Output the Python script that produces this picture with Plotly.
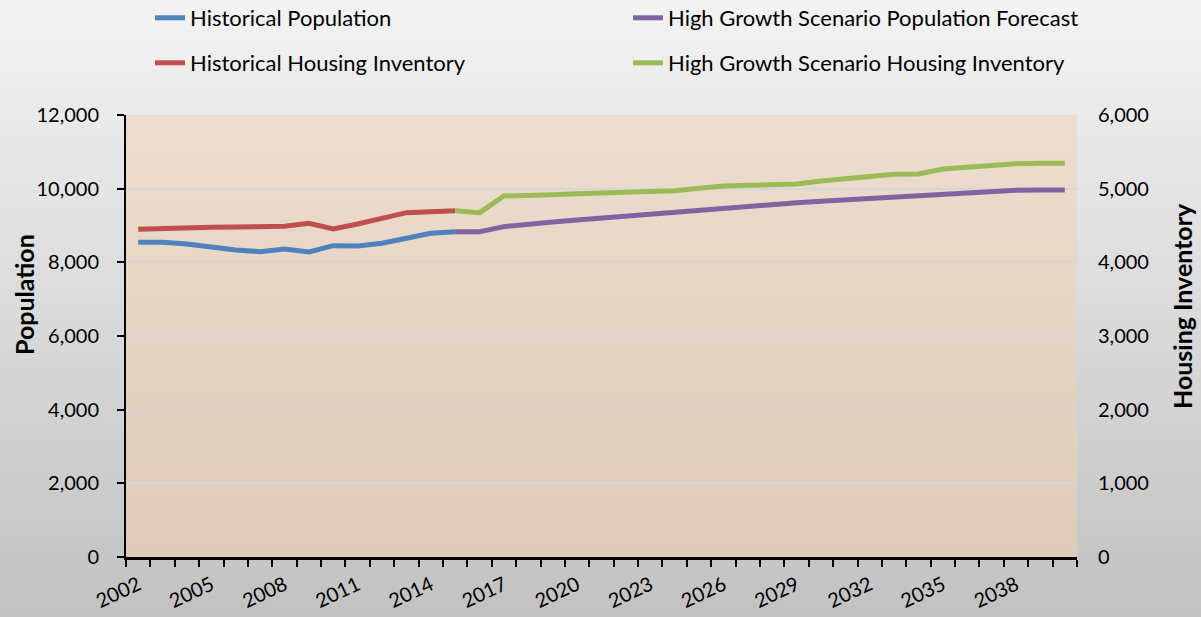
import plotly.graph_objects as go

# ---------------- data ----------------
hist_years = list(range(2002, 2016))
hist_population = [8545, 8545, 8500, 8410, 8335, 8290, 8363, 8280, 8453, 8444, 8517, 8653, 8789, 8833]
hist_housing = [4448, 4462, 4470, 4476, 4480, 4480, 4489, 4530, 4452, 4520, 4593, 4674, 4687, 4701]

fc_years = list(range(2015, 2041))
hg_population = [8833, 8833, 8969, 9041, 9096, 9150, 9204, 9258, 9313, 9376, 9430, 9484, 9545,
                 9571, 9620, 9657, 9693, 9729, 9766, 9811, 9848, 9902, 9929, 9956, 9965, 9965]
hg_housing = [4701, 4674, 4900, 4905, 4918, 4932, 4944, 4955, 4969, 4973, 5005, 5036, 5045,
              5059, 5063, 5104, 5135, 5158, 5195, 5199, 5267, 5290, 5321, 5339, 5344, 5344]

x_tick_labels = [str(y) for y in range(2002, 2039, 3)]
pop_ticks = [0, 2000, 4000, 6000, 8000, 10000, 12000]
housing_ticks = [0, 1000, 2000, 3000, 4000, 5000, 6000]

# ---------------- layout geometry ----------------
W, H = 1201, 617
ML, MR, MT, MB = 126, 124, 115, 60
PW, PH = W - ML - MR, H - MT - MB

def px_x(p):
    return (p - ML) / PW

def px_y(p):
    return (H - MB - p) / PH

FONT = "Lato"
BLUE, RED, PURPLE, GREEN = "#4f81bd", "#c0504d", "#8064a2", "#9bbb59"

fig = go.Figure()
fig.add_trace(go.Scatter(x=hist_years, y=hist_population, name="Historical Population",
                         mode="lines", line=dict(color=BLUE, width=5), legend="legend"))
fig.add_trace(go.Scatter(x=fc_years, y=hg_population, name="High Growth Scenario Population Forecast",
                         mode="lines", line=dict(color=PURPLE, width=5), legend="legend2"))
fig.add_trace(go.Scatter(x=hist_years, y=hist_housing, name="Historical Housing Inventory",
                         mode="lines", line=dict(color=RED, width=5), yaxis="y2", legend="legend3"))
fig.add_trace(go.Scatter(x=fc_years, y=hg_housing, name="High Growth Scenario Housing Inventory",
                         mode="lines", line=dict(color=GREEN, width=5), yaxis="y2", legend="legend4"))

# ---------------- gradient backgrounds ----------------
def lerp(c1, c2, t):
    return "rgb(%d,%d,%d)" % tuple(round(a + (b - a) * t) for a, b in zip(c1, c2))

shapes = []
N = 60
top_c, bot_c = (243, 243, 243), (194, 194, 194)
y_top, y_bot = px_y(0), px_y(H)
for i in range(N):
    y0 = y_top + (y_bot - y_top) * i / N
    y1 = y_top + (y_bot - y_top) * (i + 1) / N
    shapes.append(dict(type="rect", xref="paper", yref="paper", x0=-0.2, x1=1.2,
                       y0=min(y0, y1) - 0.002, y1=max(y0, y1) + 0.002,
                       fillcolor=lerp(top_c, bot_c, (i + 0.5) / N),
                       line=dict(width=0), layer="below"))
ptop_c, pbot_c = (237, 221, 206), (223, 203, 186)
M = 50
for i in range(M):
    y0 = 1 - i / M
    y1 = 1 - (i + 1) / M
    shapes.append(dict(type="rect", xref="paper", yref="paper", x0=0, x1=1,
                       y0=max(y1 - 0.001, 0), y1=min(y0 + 0.001, 1),
                       fillcolor=lerp(ptop_c, pbot_c, (i + 0.5) / M),
                       line=dict(width=0), layer="below"))

leg_common = dict(orientation="h", xanchor="left", yanchor="middle", bgcolor="rgba(0,0,0,0)",
                  font=dict(family=FONT, size=22, color="#000000"))

fig.update_layout(
    width=W, height=H,
    margin=dict(l=ML, r=MR, t=MT, b=MB, autoexpand=False),
    paper_bgcolor="rgb(220,220,220)",
    plot_bgcolor="rgba(0,0,0,0)",
    font=dict(family=FONT, size=20, color="#000000"),
    shapes=shapes,
    showlegend=True,
    legend=dict(x=px_x(150), y=px_y(18), **leg_common),
    legend2=dict(x=px_x(628), y=px_y(18), **leg_common),
    legend3=dict(x=px_x(150), y=px_y(63), **leg_common),
    legend4=dict(x=px_x(628), y=px_y(63), **leg_common),
    xaxis=dict(
        range=[2001.5, 2040.5], tickmode="array",
        tickvals=[int(t) for t in x_tick_labels], ticktext=x_tick_labels,
        tickangle=-25, ticks="", tickfont=dict(family=FONT, size=20),
        ticklabelstandoff=6,
        showgrid=False, zeroline=False, showline=True, linecolor="#000000", linewidth=2.5,
        minor=dict(tickmode="linear", tick0=2001.5, dtick=1, ticks="outside", ticklen=7,
                   tickcolor="#000000", tickwidth=1.5, showgrid=False),
        automargin=False, fixedrange=True,
    ),
    yaxis=dict(
        range=[0, 12000], tickmode="array", tickvals=pop_ticks, tickformat=",d",
        ticks="outside", ticklen=7, tickcolor="#000000", tickwidth=1.5,
        showline=True, linecolor="#000000", linewidth=2,
        showgrid=True, gridcolor="#d6d6d6", gridwidth=1.5, zeroline=False,
        ticklabelstandoff=14, tickfont=dict(family=FONT, size=20),
        automargin=False, fixedrange=True,
    ),
    yaxis2=dict(
        range=[0, 6000], tickmode="array", tickvals=housing_ticks, tickformat=",d",
        overlaying="y", side="right", ticks="", showline=False, showgrid=False, zeroline=False,
        ticklabelstandoff=20, tickfont=dict(family=FONT, size=20),
        automargin=False, fixedrange=True,
    ),
    annotations=[
        dict(text="<b>Population</b>", textangle=-90, xref="paper", yref="paper",
             x=px_x(24), y=px_y(295), showarrow=False, xanchor="center", yanchor="middle",
             font=dict(family=FONT, size=25, color="#000000")),
        dict(text="<b>Housing Inventory</b>", textangle=-90, xref="paper", yref="paper",
             x=px_x(1182), y=px_y(306), showarrow=False, xanchor="center", yanchor="middle",
             font=dict(family=FONT, size=25, color="#000000")),
    ],
)

fig.write_html("out.html", config={"displayModeBar": False},
               post_script="document.body.style.margin='0';")
